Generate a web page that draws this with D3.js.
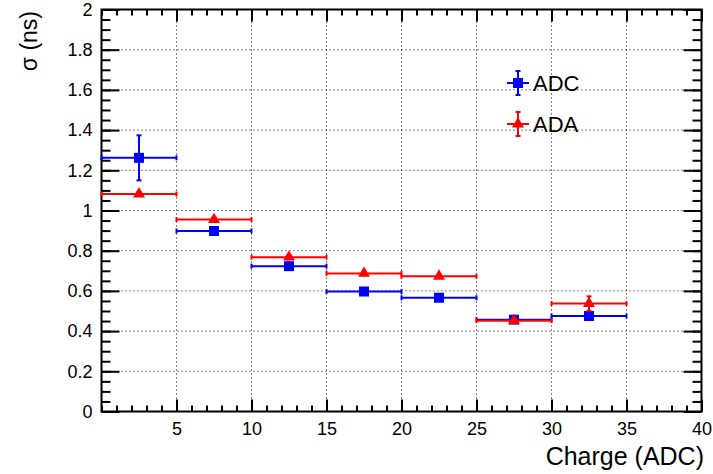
<!DOCTYPE html>
<html>
<head>
<meta charset="utf-8">
<script src="https://cdn.jsdelivr.net/npm/d3@7"></script>
<style>
  body { margin: 0; background: #fff; }
  text { font-family: "Liberation Sans", Arial, Helvetica, sans-serif; }
</style>
</head>
<body>
<div id="chart"></div>
<script>
// bins in charge (ADC)
var binCenters = [2.5, 7.5, 12.5, 17.5, 22.5, 27.5, 32.5];
var binHalfWidth = [2.5, 2.5, 2.5, 2.5, 2.5, 2.5, 2.5];

// sigma values (ns)
var adcValues = [1.262, 0.898, 0.723, 0.597, 0.566, 0.457, 0.475];
var adcErrors = [0.112, 0.012, 0.010, 0.008, 0.008, 0.008, 0.010];
var adaValues = [1.082, 0.955, 0.768, 0.687, 0.673, 0.452, 0.537];
var adaErrors = [0.010, 0.010, 0.010, 0.008, 0.008, 0.008, 0.036];

var xTickLabels = [5, 10, 15, 20, 25, 30, 35, 40];
var yTickLabels = [0, 0.2, 0.4, 0.6, 0.8, 1, 1.2, 1.4, 1.6, 1.8, 2];
var seriesNames = ["ADC", "ADA"];

var svgWidth = 713;
var svgHeight = 474;
var frame = { left: 101.5, right: 701.5, top: 9.5, bottom: 411.5 };

var svg = d3.select("#chart")
  .append("svg")
  .attr("width", svgWidth)
  .attr("height", svgHeight);

var x = d3.scaleLinear().domain([0, 40]).range([frame.left, frame.right]);
var y = d3.scaleLinear().domain([0, 2]).range([frame.bottom, frame.top]);

// dotted grid at major ticks
var grid = svg.append("g")
  .attr("stroke", "#000")
  .attr("stroke-width", 1)
  .attr("stroke-dasharray", "1,3");
xTickLabels.filter(d => d < 40).forEach(function(d) {
  grid.append("line")
    .attr("x1", x(d)).attr("x2", x(d))
    .attr("y1", frame.top).attr("y2", frame.bottom);
});
yTickLabels.filter(d => d > 0 && d < 2).forEach(function(d) {
  grid.append("line")
    .attr("x1", frame.left).attr("x2", frame.right)
    .attr("y1", y(d)).attr("y2", y(d));
});

var xMinor = d3.range(0, 41, 1);
var yMinor = d3.range(0, 2.001, 0.05);

function styleAxis(g) {
  g.select(".domain").remove();
  g.selectAll(".tick line").attr("stroke", "#000").attr("stroke-width", 2);
  g.selectAll("text").attr("font-size", 18).attr("fill", "#000");
}

// bottom axis
svg.append("g")
  .attr("transform", `translate(0, ${frame.bottom})`)
  .call(d3.axisBottom(x).tickValues(xMinor).tickSize(-6).tickFormat(""))
  .call(styleAxis);
svg.append("g")
  .attr("transform", `translate(0, ${frame.bottom})`)
  .call(d3.axisBottom(x).tickValues(xTickLabels).tickSize(-12).tickPadding(11).tickFormat(d3.format("d")))
  .call(styleAxis);

// top axis (ticks only)
svg.append("g")
  .attr("transform", `translate(0, ${frame.top})`)
  .call(d3.axisTop(x).tickValues(xMinor).tickSize(-6).tickFormat(""))
  .call(styleAxis);
svg.append("g")
  .attr("transform", `translate(0, ${frame.top})`)
  .call(d3.axisTop(x).tickValues(xTickLabels).tickSize(-12).tickFormat(""))
  .call(styleAxis);

// left axis
svg.append("g")
  .attr("transform", `translate(${frame.left}, 0)`)
  .call(d3.axisLeft(y).tickValues(yMinor).tickSize(-9).tickFormat(""))
  .call(styleAxis);
svg.append("g")
  .attr("transform", `translate(${frame.left}, 0)`)
  .call(d3.axisLeft(y).tickValues(yTickLabels).tickSize(-18).tickPadding(9).tickFormat(d => String(+d.toFixed(1))))
  .call(styleAxis);

// right axis (ticks only)
svg.append("g")
  .attr("transform", `translate(${frame.right}, 0)`)
  .call(d3.axisRight(y).tickValues(yMinor).tickSize(-9).tickFormat(""))
  .call(styleAxis);
svg.append("g")
  .attr("transform", `translate(${frame.right}, 0)`)
  .call(d3.axisRight(y).tickValues(yTickLabels).tickSize(-18).tickFormat(""))
  .call(styleAxis);

// frame
svg.append("rect")
  .attr("x", frame.left).attr("y", frame.top)
  .attr("width", frame.right - frame.left)
  .attr("height", frame.bottom - frame.top)
  .attr("fill", "none")
  .attr("stroke", "#000")
  .attr("stroke-width", 2);

// axis titles
svg.append("text")
  .attr("x", 704).attr("y", 465)
  .attr("text-anchor", "end")
  .attr("font-size", 25)
  .text("Charge (ADC)");

svg.append("text")
  .attr("transform", "translate(37, 11) rotate(-90)")
  .attr("text-anchor", "end")
  .attr("font-size", 23)
  .text("σ (ns)");

var capSize = 2.5;
var triangle = d3.symbol().type(d3.symbolTriangle).size(62);

function drawSeries(values, errors, color, marker) {
  var g = svg.append("g").attr("stroke", color).attr("fill", color).attr("stroke-width", 2);
  binCenters.forEach(function(c, i) {
    var x0 = x(c - binHalfWidth[i]);
    var x1 = x(c + binHalfWidth[i]);
    var cy = y(values[i]);
    var cx = x(c);
    g.append("line").attr("x1", x0).attr("x2", x1).attr("y1", cy).attr("y2", cy);
    g.append("line").attr("x1", x0).attr("x2", x0).attr("y1", cy - capSize).attr("y2", cy + capSize);
    g.append("line").attr("x1", x1).attr("x2", x1).attr("y1", cy - capSize).attr("y2", cy + capSize);
    var yTop = y(values[i] + errors[i]);
    var yBot = y(values[i] - errors[i]);
    g.append("line").attr("x1", cx).attr("x2", cx).attr("y1", yTop).attr("y2", yBot);
    g.append("line").attr("x1", cx - capSize).attr("x2", cx + capSize).attr("y1", yTop).attr("y2", yTop);
    g.append("line").attr("x1", cx - capSize).attr("x2", cx + capSize).attr("y1", yBot).attr("y2", yBot);
    marker(g, cx, cy);
  });
}

function squareMarker(g, cx, cy) {
  g.append("rect")
    .attr("x", cx - 5).attr("y", cy - 5)
    .attr("width", 10).attr("height", 10)
    .attr("stroke", "none");
}

function triangleMarker(g, cx, cy) {
  g.append("path")
    .attr("d", triangle())
    .attr("transform", `translate(${cx}, ${cy})`)
    .attr("stroke", "none");
}

drawSeries(adcValues, adcErrors, "#0000ff", squareMarker);
drawSeries(adaValues, adaErrors, "#ff0000", triangleMarker);

// legend
var legendRows = [
  { name: seriesNames[0], color: "#0000ff", marker: squareMarker, cy: 83 },
  { name: seriesNames[1], color: "#ff0000", marker: triangleMarker, cy: 124 }
];
legendRows.forEach(function(r) {
  var g = svg.append("g").attr("stroke", r.color).attr("fill", r.color).attr("stroke-width", 2);
  var cx = 518;
  g.append("line").attr("x1", cx - 11).attr("x2", cx + 11).attr("y1", r.cy).attr("y2", r.cy);
  g.append("line").attr("x1", cx).attr("x2", cx).attr("y1", r.cy - 12).attr("y2", r.cy + 12);
  g.append("line").attr("x1", cx - capSize).attr("x2", cx + capSize).attr("y1", r.cy - 12).attr("y2", r.cy - 12);
  g.append("line").attr("x1", cx - capSize).attr("x2", cx + capSize).attr("y1", r.cy + 12).attr("y2", r.cy + 12);
  r.marker(g, cx, r.cy);
  svg.append("text")
    .attr("x", 533).attr("y", r.cy + 8)
    .attr("font-size", 22)
    .attr("fill", "#000")
    .text(r.name);
});
</script>
</body>
</html>
